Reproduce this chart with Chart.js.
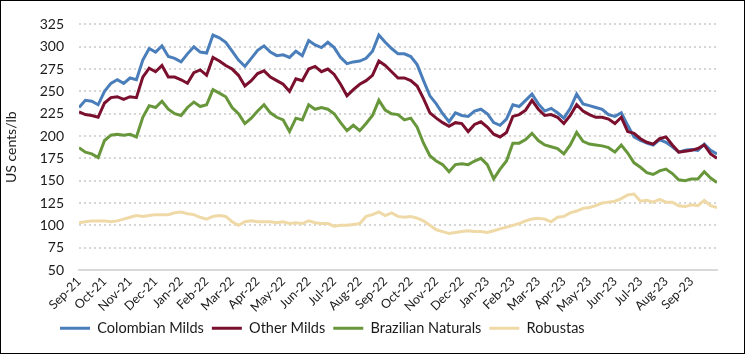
<!DOCTYPE html>
<html>
<head>
<meta charset="utf-8">
<script src="https://cdn.jsdelivr.net/npm/chart.js@4.4.0/dist/chart.umd.min.js"></script>
<style>
  html, body { margin: 0; padding: 0; background: #fff; }
  #box { width: 745px; height: 354px; box-sizing: border-box; border: 1px solid #000; }
  #box canvas { display: block; }
</style>
</head>
<body>
<div id="box"><canvas id="coffeeChart" width="743" height="352"></canvas></div>
<script>
/* ===================== DATA (roughly weekly, 4 points per month) ===================== */
const months = ["Sep-21", "Oct-21", "Nov-21", "Dec-21", "Jan-22", "Feb-22", "Mar-22", "Apr-22", "May-22",
  "Jun-22", "Jul-22", "Aug-22", "Sep-22", "Oct-22", "Nov-22", "Dec-22", "Jan-23", "Feb-23", "Mar-23",
  "Apr-23", "May-23", "Jun-23", "Jul-23", "Aug-23", "Sep-23"];
const yTicks = [50, 75, 100, 125, 150, 175, 200, 225, 250, 275, 300, 325];

const colombianMilds = [
  232, 240, 239, 235, 250, 259, 263, 259, 265, 263, 285, 298, 294, 301, 289, 287,
  283, 292, 300, 294, 293, 313, 310, 305, 295, 285, 278, 287, 296, 301, 294, 290,
  291, 288, 295, 290, 307, 302, 299, 305, 299, 288, 281, 283, 284, 287, 295, 313,
  305, 298, 292, 292, 289, 280, 262, 245, 236, 225, 216, 226, 223, 222, 228, 230,
  225, 215, 212, 219, 235, 233, 240, 247, 236, 228, 231, 226, 220, 231, 247, 236,
  234, 232, 230, 224, 222, 226, 212, 199, 195, 192, 190, 196, 193, 188, 182, 184,
  185, 184, 191, 184, 180
];
const otherMilds = [
  227, 224, 223, 221, 237, 243, 244, 241, 244, 243, 266, 276, 272, 279, 266, 266,
  263, 259, 271, 274, 268, 288, 284, 279, 275, 268, 256, 262, 270, 273, 266, 262,
  258, 250, 264, 262, 275, 278, 272, 275, 269, 258, 245, 252, 258, 262, 268, 284,
  279, 272, 265, 265, 262, 256, 242, 226, 220, 215, 211, 215, 214, 205, 213, 216,
  210, 202, 199, 204, 222, 224, 229, 240, 230, 223, 224, 221, 214, 223, 235, 228,
  224, 221, 221, 219, 214, 221, 205, 203, 197, 193, 191, 197, 199, 190, 182, 183,
  184, 186, 190, 180, 175
];
const brazilianNaturals = [
  187, 182, 180, 176, 195, 201, 202, 201, 202, 199, 221, 234, 232, 239, 230, 225,
  223, 232, 238, 233, 235, 252, 248, 244, 232, 225, 214, 220, 228, 235, 226, 221,
  218, 205, 220, 218, 235, 230, 232, 230, 225, 215, 206, 212, 206, 214, 223, 240,
  229, 225, 224, 218, 220, 210, 192, 178, 172, 168, 160, 168, 169, 168, 172, 175,
  168, 152, 163, 172, 192, 192, 196, 203, 195, 190, 188, 186, 180, 190, 204, 194,
  191, 190, 189, 187, 182, 190, 181, 170, 165, 159, 157, 161, 163, 158, 151, 150,
  152, 152, 160, 153, 148
];
const robustas = [
  103, 104, 105, 105, 105, 104, 105, 107, 109, 111, 110, 111, 112, 112, 112, 114,
  115, 113, 112, 109, 107, 110, 111, 110, 104, 100, 104, 105, 104, 104, 104, 103,
  104, 102, 103, 102, 105, 103, 102, 102, 99, 100, 100, 101, 102, 110, 112, 115,
  111, 114, 110, 109, 110, 108, 105, 100, 95, 93, 91, 92, 93, 94, 93, 93,
  92, 94, 96, 98, 100, 102, 105, 107, 108, 107, 104, 109, 110, 114, 116, 119,
  120, 122, 125, 126, 127, 130, 134, 135, 127, 128, 126, 129, 126, 126, 122, 121,
  123, 122, 128, 122, 120
];

const seriesNames = ["Colombian Milds", "Other Milds", "Brazilian Naturals", "Robustas"];
const seriesColors = ["#4a7ebb", "#7a0f2e", "#67973a", "#efd9a6"];
const pointsPerMonth = 4;

/* ========== Helpers ========== */
function toPoints(values) {
  return values.map((v, i) => ({ x: i / pointsPerMonth, y: v }));
}

function makeDataset(idx, values, order) {
  return {
    label: seriesNames[idx],
    data: toPoints(values),
    borderColor: seriesColors[idx],
    backgroundColor: seriesColors[idx],
    borderWidth: 3,
    pointRadius: 0,
    tension: 0,
    order: order
  };
}

// legend starts under Sep-21 / Oct-21 in the original, not centred
const legendStart = {
  id: "legendStart",
  afterUpdate(chart) {
    if (chart.legend) chart.legend.left = 51;
  }
};

Chart.defaults.font.family = "Lato, 'Open Sans', sans-serif";
Chart.defaults.color = "#1a1a1a";

const ctx = document.getElementById("coffeeChart").getContext("2d");
new Chart(ctx, {
  type: "line",
  data: {
    datasets: [
      makeDataset(0, colombianMilds, 1),
      makeDataset(1, otherMilds, 0),
      makeDataset(2, brazilianNaturals, 2),
      makeDataset(3, robustas, 3)
    ]
  },
  options: {
    responsive: false,
    animation: false,
    layout: { padding: { top: 19, right: 27, bottom: 7.5, left: 0 } },
    plugins: {
      tooltip: { enabled: false },
      legend: {
        position: "bottom",
        align: "start",
        labels: {
          boxWidth: 30,
          boxHeight: 3,
          padding: 8,
          font: { size: 14.5 },
          sort: (a, b) => a.datasetIndex - b.datasetIndex,
          generateLabels(chart) {
            const items = Chart.defaults.plugins.legend.labels.generateLabels(chart);
            items.forEach(it => { it.lineWidth = 0; it.fillStyle = it.strokeStyle; });
            return items;
          }
        }
      }
    },
    scales: {
      x: {
        type: "linear",
        min: 0,
        max: months.length,
        grid: { display: false, drawTicks: false },
        border: { display: true, color: "#d9d9d9", width: 2 },
        ticks: {
          stepSize: 1,
          autoSkip: false,
          maxRotation: 45,
          minRotation: 45,
          padding: 4,
          font: { size: 12.5 },
          callback: v => (Number.isInteger(v) && months[v]) ? months[v] : ""
        },
        afterFit: scale => { scale.height = 43; }
      },
      y: {
        min: yTicks[0],
        max: yTicks[yTicks.length - 1],
        afterBuildTicks: scale => { scale.ticks = yTicks.map(v => ({ value: v })); },
        grid: { color: "#d6d6d6", lineWidth: 2, drawTicks: false },
        border: { display: false, dash: [2, 3] },
        ticks: { padding: 15, font: { size: 14 } },
        title: { display: true, text: "US cents/lb", font: { size: 14 }, padding: 2 },
        afterFit: scale => { scale.width = 78; }
      }
    }
  },
  plugins: [legendStart]
});
</script>
</body>
</html>
